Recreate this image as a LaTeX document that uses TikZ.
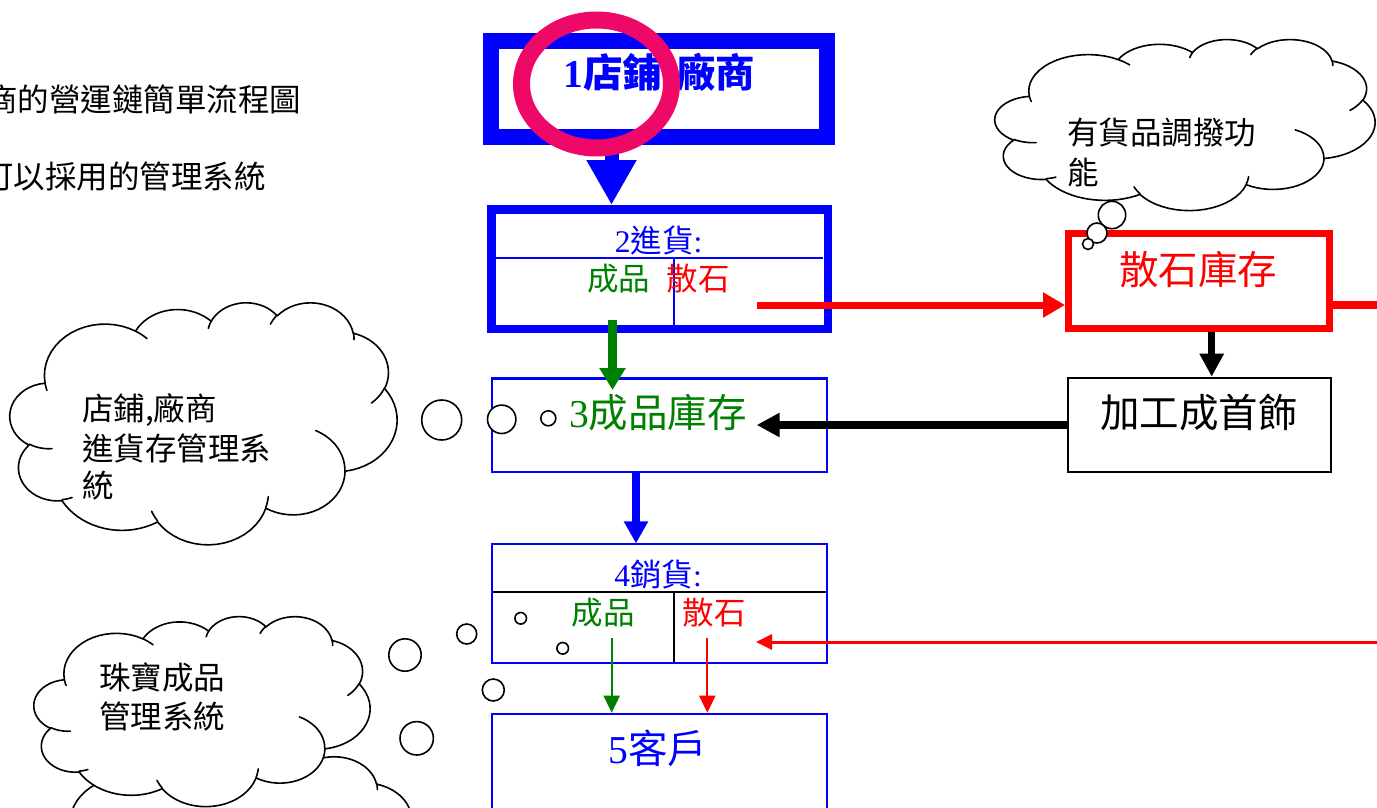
\documentclass[tikz,border=0pt]{standalone}
\usepackage{fontspec}
\setmainfont{Liberation Serif}
\newfontfamily\cjk{Noto Sans CJK TC}
\usetikzlibrary{arrows.meta}

\definecolor{flowblue}{RGB}{0,0,255}
\definecolor{flowred}{RGB}{255,0,0}
\definecolor{flowgreen}{RGB}{0,128,0}
\definecolor{ringpink}{RGB}{238,8,104}

\newcommand\szmid{\fontsize{31.5}{38.5}\selectfont}
\newcommand\szbig{\fontsize{39.5}{44}\selectfont}

% Cloud outline made of elliptical arcs (angles measured as seen, y downwards),
% sampled into a polyline in a 432 x 432 unit box.
\newcommand\cldmoveto[2]{\xdef\cldx{#1}\xdef\cldy{#2}\xdef\cldpath{\cldpath\space(#1,#2)}}
\newcommand\cldarc[4]{%
  \pgfmathsetmacro\cldts{atan2((#1)*sin(#3),(#2)*cos(#3))}%
  \pgfmathsetmacro\cldte{atan2((#1)*sin((#3)+(#4)),(#2)*cos((#3)+(#4)))}%
  \pgfmathsetmacro\cldte{ifthenelse(\cldte<\cldts,\cldte+360,\cldte)}%
  \pgfmathsetmacro\cldcx{\cldx-(#1)*cos(\cldts)}%
  \pgfmathsetmacro\cldcy{\cldy-(#2)*sin(\cldts)}%
  \foreach \cldk in {1,...,18}{%
    \pgfmathsetmacro\cldt{\cldts+(\cldte-\cldts)*\cldk/18}%
    \pgfmathsetmacro\cldpx{\cldcx+(#1)*cos(\cldt)}%
    \pgfmathsetmacro\cldpy{\cldcy+(#2)*sin(\cldt)}%
    \xdef\cldpath{\cldpath--(\cldpx,\cldpy)}%
  }%
  \pgfmathsetmacro\cldpx{\cldcx+(#1)*cos(\cldte)}%
  \pgfmathsetmacro\cldpy{\cldcy+(#2)*sin(\cldte)}%
  \xdef\cldx{\cldpx}\xdef\cldy{\cldpy}%
}

\gdef\cldpath{}
\cldmoveto{39.00}{143.70}
\cldarc{67.53}{91.90}{-190.49}{123.78}
\cldarc{53.33}{72.67}{-144.10}{89.95}
\cldarc{43.65}{59.45}{-145.81}{99.72}
\cldarc{48.57}{65.95}{-130.99}{117.24}
\cldarc{53.33}{72.73}{-78.71}{109.03}
\cldarc{67.75}{92.20}{-46.27}{130.27}
\cldarc{57.85}{78.67}{0.63}{114.03}
\cldarc{67.52}{92.15}{22.45}{115.17}
\cldarc{77.20}{105.43}{66.24}{75.71}
\cldarc{43.60}{59.18}{-274.94}{146.74}
\cldarc{43.45}{59.45}{-246.83}{152.52}
\global\let\cldoutline\cldpath

\gdef\cldpath{}
\cldmoveto{46.93}{261.77}\cldarc{43.45}{59.45}{86.74}{26.43}
\cldmoveto{69.28}{348.99}\cldarc{43.60}{59.18}{73.61}{11.45}
\cldmoveto{164.78}{390.90}\cldarc{67.52}{92.15}{137.62}{14.08}
\cldmoveto{288.27}{347.51}\cldarc{67.52}{92.15}{6.45}{16.00}
\cldmoveto{341.29}{229.54}\cldarc{57.85}{78.67}{-70.29}{70.92}
\cldmoveto{417.98}{153.54}\cldarc{53.33}{72.73}{30.32}{27.75}
\cldmoveto{383.24}{54.26}\cldarc{48.57}{65.95}{-13.74}{14.86}
\cldmoveto{290.78}{39.52}\cldarc{48.57}{65.95}{-149.18}{18.20}
\cldmoveto{221.41}{47.20}\cldarc{43.65}{59.45}{-163.49}{17.69}
\cldmoveto{140.00}{51.92}\cldarc{67.53}{91.90}{-66.71}{12.32}
\cldmoveto{41.27}{157.89}\cldarc{67.53}{91.90}{157.65}{11.86}
\global\let\cldcreases\cldpath

% draw one cloud: left, top, width, height
\newcommand\drawcloud[4]{%
  \begin{scope}[shift={(#1,#2)},xscale=#3/432,yscale=#4/432]
    \edef\cldtmp{\noexpand\path[cloudshape] \cldoutline\space-- cycle;}\cldtmp
    \edef\cldtmp{\noexpand\path[cloudcrease] \cldcreases;}\cldtmp
  \end{scope}}

\tikzset{
  cloudshape/.style={draw=black, fill=white, line width=1.6pt, line join=round},
  cloudcrease/.style={draw=black, line width=1.6pt, line cap=round},
  bubble/.style={draw=black, fill=white, line width=1.6pt},
  lbl/.style={inner sep=0pt},
  cloudtext/.style={inner sep=0pt, anchor=west, font=\szmid\cjk},
  flowbox/.style={rectangle, inner sep=0pt},
}

\begin{document}
\begin{tikzpicture}[x=1pt,y=-1pt]
\useasboundingbox (0,0) rectangle (1377,808);
\clip (0,0) rectangle (1377,808);

% thought clouds
\drawcloud{36}{756}{384}{218}
\drawcloud{34}{616}{336}{190}
\drawcloud{10}{302}{387}{242}
\drawcloud{995}{39}{380}{171}

% helper coordinates
\coordinate (ax1) at (611.5,0);
\coordinate (g1) at (612.5,320);
\coordinate (g2) at (612.5,390);
\coordinate (bx) at (636,0);
\coordinate (r1) at (757,305);
\coordinate (r2) at (1390,305);
\coordinate (kx) at (1211.7,0);
\coordinate (k2) at (756.7,425);
\coordinate (g3) at (611.7,638);
\coordinate (r3) at (707.3,638);
\coordinate (r4) at (1390,642);
\coordinate (r5) at (756,642);
\coordinate (d1) at (674,258);
\coordinate (d3) at (674.3,591.7);

% inner dividers of the two split boxes
\draw[flowblue, line width=1.5pt] (496,258) -- (823,258);
\draw[flowblue, line width=1.5pt] (d1) -- (674,329);
\draw[black, line width=2pt] (491,591.7) -- (828,591.7);
\draw[black, line width=2pt] (d3) -- (674.3,663);

% boxes
\node[flowbox, draw=flowblue, line width=16pt, minimum width=336pt, minimum height=96pt] (box1) at (659,89) {};
\node[flowbox, draw=flowblue, line width=8.5pt, minimum width=336.5pt, minimum height=119.5pt] (box2) at (659.5,269) {};
\node[flowbox, draw=flowblue, line width=2.5pt, minimum width=335pt, minimum height=93.5pt] (box3) at (659.5,425.25) {};
\node[flowbox, draw=flowblue, line width=2pt, minimum width=335.6pt, minimum height=118.7pt] (box4) at (659.5,603.7) {};
\node[flowbox, draw=flowblue, line width=2pt, minimum width=335.6pt, minimum height=136.3pt] (box5) at (659.5,781.85) {};
\node[flowbox, draw=flowred, line width=7pt, minimum width=261pt, minimum height=95pt] (sanshi) at (1199,281) {};
\node[flowbox, draw=black, line width=2pt, minimum width=263.6pt, minimum height=94.6pt] (jiagong) at (1199.5,425) {};

% connectors
\draw[flowblue, line width=14pt, -{Triangle[length=45pt,width=47pt]}] (box1.south -| ax1) -- (box2.north -| ax1);
\draw[flowgreen, line width=9pt, -{Triangle[length=22pt,width=25pt]}] (g1) -- (g2);
\draw[flowblue, line width=8pt, -{Triangle[length=22pt,width=23pt]}] (box3.south -| bx) -- (box4.north -| bx);
\draw[flowred, line width=7pt, -{Triangle[length=22pt,width=24pt]}] (r1) -- (sanshi.west |- r1);
\draw[flowred, line width=8pt] (sanshi.east |- r1) -- (r2);
\draw[black, line width=7pt, -{Triangle[length=23pt,width=23pt]}] (sanshi.south -| kx) -- (jiagong.north -| kx);
\draw[black, line width=8pt, -{Triangle[length=23pt,width=23pt]}] (jiagong.west) -- (k2);
\draw[flowgreen, line width=2pt, -{Triangle[length=17pt,width=16pt]}] (g3) -- (box5.north -| g3);
\draw[flowred, line width=2pt, -{Triangle[length=17pt,width=16pt]}] (r3) -- (box5.north -| r3);
\draw[flowred, line width=3pt, -{Triangle[length=16pt,width=15pt]}] (r4) -- (r5);

% thought bubbles
\draw[bubble] (441.7,420) circle[radius=20pt];
\draw[bubble] (501.7,419.3) circle[radius=14.2pt];
\draw[bubble] (548.3,418.3) circle[radius=7.5pt];
\draw[bubble] (405,655) circle[radius=16.2pt];
\draw[bubble] (416.7,738.3) circle[radius=16.7pt];
\draw[bubble] (466.7,634) circle[radius=10pt];
\draw[bubble] (493.3,690) circle[radius=11pt];
\draw[bubble] (520.7,618.3) circle[radius=5.8pt];
\draw[bubble] (562.7,648.3) circle[radius=5.8pt];
\draw[bubble] (1112,215) circle[radius=13.7pt];
\draw[bubble] (1097,233) circle[radius=10pt];
\draw[bubble] (1088,244) circle[radius=5.5pt];

% headings
\node[cloudtext] (h1) at (-14,99) {商的營運鏈簡單流程圖};
\node[cloudtext] (h2) at (-18,176) {可以採用的管理系統};

% cloud texts
\node[cloudtext] (ca1) at (82,410) {店鋪,廠商};
\node[cloudtext] (ca2) at (82,448) {進貨存管理系};
\node[cloudtext] (ca3) at (82,486) {統};
\node[cloudtext] (cb1) at (99,678) {珠寶成品};
\node[cloudtext] (cb2) at (99,716) {管理系統};
\node[cloudtext] (cd1) at (1067,133) {有貨品調撥功};
\node[cloudtext] (cd2) at (1067,173) {能};

% box labels
\node[lbl, text=flowblue, font=\bfseries\szbig] (t1) at (659.5,75) {1{\cjk 店鋪,廠商}};
\node[lbl, text=flowblue, font=\szmid] (t2) at (658.5,240) {2{\cjk 進貨}:};
\node[lbl, text=flowgreen, font=\szmid\cjk] (t2a) at (618.5,278.5) {成品};
\node[lbl, text=flowred, font=\szmid\cjk] (t2b) at (698,278.5) {散石};
\node[lbl, text=flowgreen, font=\szbig] (t3) at (658,413) {3{\cjk 成品庫存}};
\node[lbl, text=flowred, font=\szbig\cjk] (t6) at (1198,270) {散石庫存};
\node[lbl, text=black, font=\szbig\cjk] (t7) at (1199,412.5) {加工成首飾};
\node[lbl, text=flowblue, font=\szmid] (t4) at (658,574) {4{\cjk 銷貨}:};
\node[lbl, text=flowgreen, font=\szmid\cjk] (t4a) at (603,612.5) {成品};
\node[lbl, text=flowred, font=\szmid\cjk] (t4b) at (714,612.5) {散石};
\node[lbl, text=flowblue, font=\szbig] (t5) at (658,748.5) {5{\cjk 客戶}};

% highlight ring
\draw[ringpink, line width=17pt] (596.5,84) ellipse[x radius=75pt, y radius=64pt];
\end{tikzpicture}
\end{document}
